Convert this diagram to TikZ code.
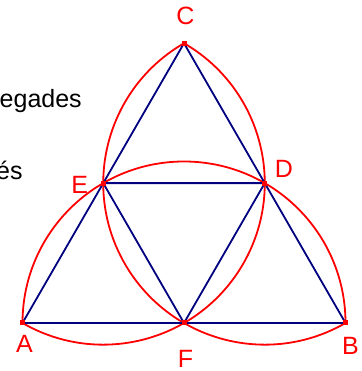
\documentclass[tikz,border=0pt]{standalone}
\usepackage{fontspec}
\setmainfont{Liberation Sans}
\usepackage{xcolor}
\usetikzlibrary{calc, positioning}
\definecolor{arcred}{RGB}{255,0,0}
\definecolor{edgeblue}{RGB}{0,0,128}

\begin{document}
\begin{tikzpicture}[x=1pt, y=1pt,
        arcline/.style={arcred, line width=1.8pt},
        edge/.style={edgeblue, line width=1.8pt},
        dot/.style={fill=arcred},
        lbl/.style={text=arcred, font=\fontsize{25}{30}\selectfont, inner sep=0pt},
        txt/.style={font=\fontsize{25}{30}\selectfont, inner sep=0pt, anchor=base west}]
    \useasboundingbox (0,0) rectangle (361,371);
    % vertices
    \coordinate (A) at (22.5,48);
    \coordinate (B) at (345.5,48);
    \coordinate (C) at ($(A)!1!60:(B)$);
    \coordinate (F) at ($(A)!0.5!(B)$);
    \coordinate (D) at ($(B)!0.5!(C)$);
    \coordinate (E) at ($(A)!0.5!(C)$);
    % arcs
    \draw[arcline] (B) arc[start angle=0, end angle=180, radius=161.5];
    \draw[arcline] (C) arc[start angle=120, end angle=300, radius=161.5];
    \draw[arcline] (A) arc[start angle=240, end angle=420, radius=161.5];
    % triangles
    \draw[edge] (A) -- (B) -- (C) -- cycle;
    \draw[edge] (E) -- (D) -- (F) -- cycle;
    \foreach \p in {A,B,C,D,E,F}
        \fill[dot] ($(\p)+(-2.5,-2.5)$) rectangle ++(5,5);
    % labels
    \node[lbl, above=18pt of C, xshift=1.5pt] (labC) {C};
    \node[lbl, above right=5pt and 10pt of D] (labD) {D};
    \node[lbl, left=15pt of E, yshift=-2pt] (labE) {E};
    \node[lbl, below=12pt of A, xshift=2pt] (labA) {A};
    \node[lbl, below=27pt of F, xshift=1.5pt] (labF) {F};
    \node[lbl, below=14pt of B, xshift=5pt] (labB) {B};
    \node[txt] (txtone) at (-0.5,263) {egades};
    \node[txt] (txttwo) at (-4,191) {és};
\end{tikzpicture}
\end{document}
